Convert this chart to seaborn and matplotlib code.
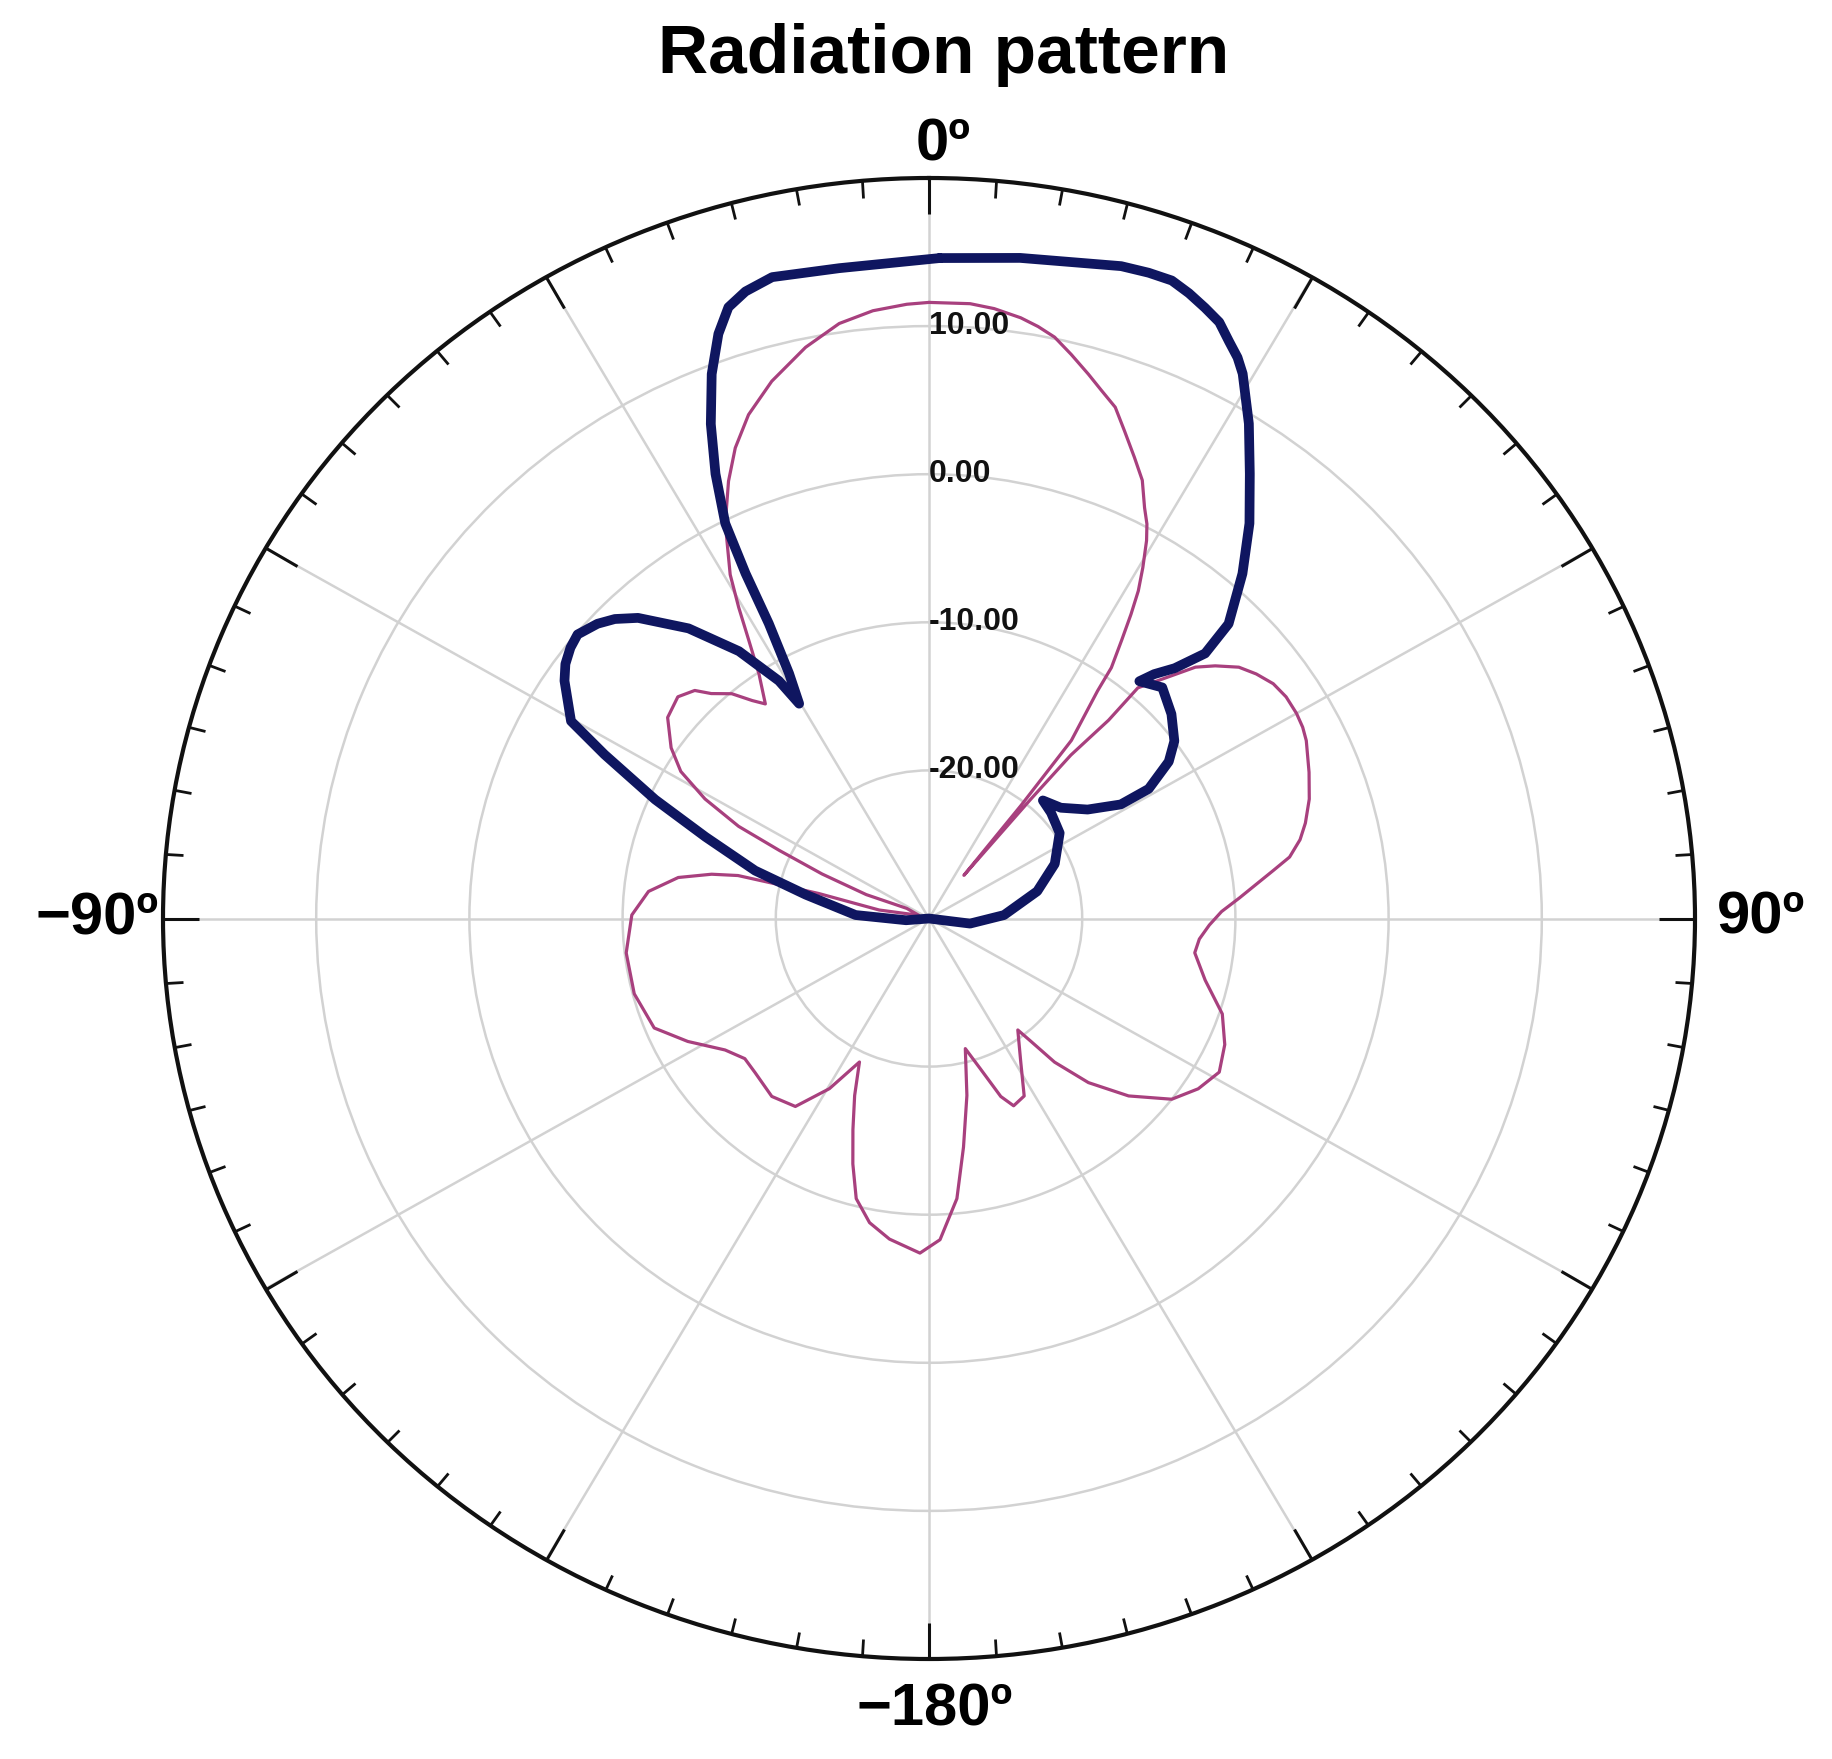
import numpy as np
import pandas as pd
import matplotlib
import matplotlib.pyplot as plt
import seaborn as sns

matplotlib.use("Agg")

# angles in degrees, clockwise from 0º at the top; gain in dB
navy_deg = [0.9, 7.6, 15.9, 18.2, 20.2, 21.9, 23.6, 25.2, 26.7, 28.0, 29.1, 32.0,
            34.9, 38.1, 41.3, 44.5, 45.2, 43.5, 41.7, 40.6, 44.3, 48.9, 53.2, 55.9,
            58.6, 58.4, 54.6, 49.0, 43.0, 48.1, 55.9, 65.8, 75.4, 87.3, 97.3, 180.0,
            265.5, 272.8, 281.3, 285.9, 290.7, 294.2, 297.6, 299.7, 304.0, 305.9,
            308.0, 309.9, 312.6, 314.6, 316.9, 321.3, 325.5, 328.6, 329.7, 331.1,
            332.3, 332.8, 333.5, 335.1, 336.9, 338.9, 340.8, 342.4, 344.2, 346.7,
            352.4, 360.9]
navy_db = [14.6, 15.0, 15.8, 15.9, 15.9, 15.5, 15.0, 14.5, 13.6, 12.9, 12.1, 9.4,
           6.6, 3.9, 1.0, -2.1, -4.6, -6.7, -7.9, -8.9, -8.2, -9.0, -10.0, -11.1,
           -13.2, -15.3, -17.3, -18.6, -19.1, -19.3, -19.7, -21.0, -22.7, -25.1, -27.3, -30.0,
           -28.5, -25.2, -21.8, -18.2, -14.4, -10.4, -6.1, -3.1, -1.3, -0.7,
           -0.3, -0.1, -0.6, -1.2, -2.2, -4.9, -8.1, -11.2, -13.2, -11.1,
           -7.5, -3.8, -0.2, 3.1, 6.3, 9.4, 11.8, 13.3, 14.0, 14.5,
           14.3, 14.6]

pink_deg = [0.0, 3.7, 5.9, 8.4, 10.1, 11.8, 13.7, 15.8, 17.5, 19.4, 21.2, 23.3,
            25.2, 26.9, 28.1, 29.1, 30.5, 31.7, 32.7, 33.8, 35.1, 35.6, 37.7, 38.2,
            38.0, 39.5, 40.0, 41.2, 41.2, 45.7, 47.6, 50.0, 52.3, 54.8, 57.3, 60.0,
            62.1, 64.0, 68.3, 72.0, 75.3, 77.6, 80.0, 81.8, 83.8, 86.1, 88.6, 91.4,
            94.5, 97.6, 103.0, 108.6, 113.8, 118.7, 123.2, 127.6, 132.6, 136.8,
            139.8, 141.3, 142.4, 148.3, 152.6, 156.4, 158.7, 161.7, 164.9, 168.3,
            171.7, 174.5, 178.1, 181.5, 186.8, 190.7, 194.1, 196.7, 199.2, 202.1,
            205.1, 209.5, 214.5, 220.5, 227.5, 231.8, 236.3, 242.2, 247.6, 255.2,
            263.3, 270.7, 275.7, 279.6, 281.9, 283.1, 283.2, 280.0, 288.0, 295.2,
            291.5, 293.3, 295.2, 296.6, 298.9, 301.5, 304.4, 308.5, 312.4, 315.2,
            316.9, 319.7, 321.9, 323.6, 326.1, 327.9, 329.4, 330.8, 333.5, 336.1,
            338.3, 340.9, 344.2, 348.2, 351.7, 354.9, 358.0, 360.0]
pink_db = [11.6, 11.6, 11.4, 11.0, 10.6, 10.1, 9.2, 8.2, 7.4, 6.6, 5.3, 3.9,
           2.7, 1.1, 0.2, -0.8, -2.5, -4.0, -5.6, -7.4, -9.3, -11.1, -14.8, -20.3,
           -26.3, -19.6, -15.6, -12.2, -9.3, -5.7, -4.7, -3.6, -3.0, -2.5, -2.3, -2.3,
           -2.4, -2.6, -3.3, -3.9, -4.6, -5.2, -6.1, -7.3, -8.5, -9.7, -10.9, -11.7,
           -12.3, -12.5, -11.5, -9.8, -8.9, -8.4, -9.0, -10.0, -12.3, -14.8,
           -17.3, -19.4, -20.5, -18.6, -16.5, -16.2, -17.1, -19.3, -20.9, -17.8,
           -14.4, -11.0, -8.3, -7.4, -8.2, -9.1, -10.5, -12.7, -14.9, -17.1,
           -19.3, -16.8, -14.6, -14.2, -14.6, -14.7, -14.0, -12.2, -10.6, -10.1,
           -10.1, -10.6, -11.6, -13.4, -15.5, -17.2, -22.6, -26.7, -29.3, -28.4,
           -25.6, -22.4, -19.2, -16.1, -13.3, -11.0, -9.6, -8.2, -7.8, -8.3,
           -9.2, -10.1, -11.3, -12.0, -10.1, -7.9, -5.6, -3.4, -0.2, 2.3,
           4.2, 6.0, 7.7, 9.4, 10.6, 11.2, 11.5, 11.6]

ring_values = [-20, -10, 0, 10]
ring_labels = ["-20.00", "-10.00", "0.00", "10.00"]
angle_labels = ["0º", "90º", "−180º", "−90º"]

sns.set_theme(style="white")
plt.rcParams["font.family"] = ["Liberation Sans", "DejaVu Sans"]
plt.rcParams["text.color"] = "black"

fig = plt.figure(figsize=(18.33, 17.59), dpi=100)
ax = fig.add_axes([163 / 1833, 100 / 1759, 1532 / 1833, 1481 / 1759], projection="polar")
ax.set_aspect("auto")
ax.set_theta_zero_location("N")
ax.set_theta_direction(-1)

pink_df = pd.DataFrame({"theta": np.deg2rad(pink_deg), "gain": pink_db})
navy_df = pd.DataFrame({"theta": np.deg2rad(navy_deg), "gain": navy_db})

sns.lineplot(data=pink_df, x="theta", y="gain", sort=False, estimator=None,
             color="#a8407e", lw=2.3, ax=ax, solid_joinstyle="round")
sns.lineplot(data=navy_df, x="theta", y="gain", sort=False, estimator=None,
             color="#0f1660", lw=7.0, ax=ax, solid_joinstyle="round")

ax.set_ylim(-30, 20)
ax.set_yticks(ring_values)
ax.set_yticklabels([])
ax.set_xticks(np.deg2rad(np.arange(0, 360, 30)))
ax.set_xticklabels([])
ax.set_xticks(np.deg2rad(np.arange(0, 360, 5)), minor=True)
ax.grid(True, which="major", color="#d2d2d2", lw=1.8)
# outer ring ticks are the "top" ones on a polar theta axis
ax.tick_params(axis="x", which="both", bottom=False, top=True)
ax.tick_params(axis="x", which="major", direction="in", length=26, width=2.2, color="#111111")
ax.tick_params(axis="x", which="minor", direction="in", length=12, width=2.0, color="#111111")
ax.spines["polar"].set_color("#111111")
ax.spines["polar"].set_linewidth(3)
ax.set_xlabel("")
ax.set_ylabel("")

for v, lab in zip(ring_values, ring_labels):
    ax.text(0, v, lab, ha="left", va="center", fontsize=23, fontweight="bold",
            color="#111111")

label_kw = dict(fontsize=43, fontweight="bold", textcoords="offset points",
                annotation_clip=False)
ax.annotate(angle_labels[0], xy=(np.deg2rad(0), 21.2), xytext=(10, 0),
            ha="center", va="baseline", **label_kw)
ax.annotate(angle_labels[1], xy=(np.deg2rad(90), 21.4), xytext=(0, 0),
            ha="left", va="center", **label_kw)
ax.annotate(angle_labels[2], xy=(np.deg2rad(180), 21.6), xytext=(4, 0),
            ha="center", va="top", **label_kw)
ax.annotate(angle_labels[3], xy=(np.deg2rad(270), 20.3), xytext=(0, 0),
            ha="right", va="center", **label_kw)

fig.text(0.515, 1 - 73 / 1759, "Radiation pattern", ha="center", va="baseline",
         fontsize=50, fontweight="bold")

fig.savefig("out.png", dpi=100)
